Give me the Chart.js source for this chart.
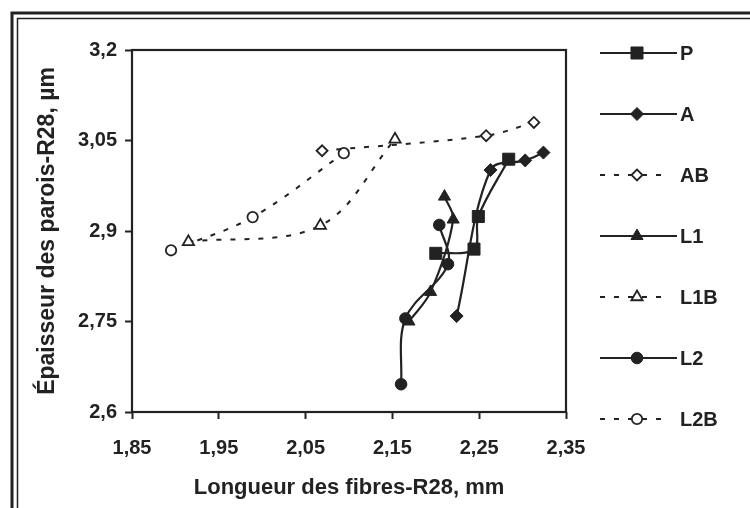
<!DOCTYPE html>
<html>
<head>
<meta charset="utf-8">
<script src="https://cdn.jsdelivr.net/npm/chart.js@4.4.1/dist/chart.umd.min.js"></script>
<style>
  html, body { margin: 0; padding: 0; background: #fff; }
</style>
</head>
<body>
<canvas id="fibreChart" width="750" height="508"></canvas>
<script>
const ink = "#222222";
const fontFamily = "'Liberation Sans', Arial, sans-serif";

// longueur des fibres (mm) et épaisseur des parois (µm) pour chaque série
const seriesNames = ["P", "A", "AB", "L1", "L1B", "L2", "L2B"];
const P_len   = [2.200, 2.244, 2.249, 2.284];
const P_wall  = [2.863, 2.870, 2.924, 3.019];
const A_len   = [2.224, 2.263, 2.303, 2.324];
const A_wall  = [2.759, 3.001, 3.017, 3.030];
const AB_len  = [2.069, 2.258, 2.313];
const AB_wall = [3.033, 3.058, 3.080];
const L1_len  = [2.169, 2.194, 2.220, 2.210];
const L1_wall = [2.750, 2.799, 2.919, 2.957];
const L1B_len = [1.915, 2.067, 2.153];
const L1B_wall = [2.882, 2.909, 3.052];
const L2_len  = [2.160, 2.165, 2.214, 2.204];
const L2_wall = [2.646, 2.755, 2.845, 2.910];
const L2B_len = [1.895, 1.989, 2.094];
const L2B_wall = [2.868, 2.923, 3.029];

const xTickVals = [1.85, 1.95, 2.05, 2.15, 2.25, 2.35];
const xTickLabels = ["1,85", "1,95", "2,05", "2,15", "2,25", "2,35"];
const yTickVals = [2.6, 2.75, 2.9, 3.05, 3.2];
const yTickLabels = ["2,6", "2,75", "2,9", "3,05", "3,2"];

function points(xs, ys) {
  return xs.map((x, i) => ({ x: x, y: ys[i] }));
}

// solid line + filled marker, or dotted line + hollow marker
function series(label, xs, ys, style, radius, hollow) {
  return {
    label: label,
    data: points(xs, ys),
    showLine: true,
    tension: 0.35,
    borderColor: ink,
    borderWidth: hollow ? 2 : 2.2,
    borderDash: hollow ? [5, 9] : [],
    pointStyle: style,
    pointRadius: radius,
    pointHoverRadius: radius,
    pointBorderWidth: hollow ? 1.8 : 1,
    pointBorderColor: ink,
    pointBackgroundColor: hollow ? "#ffffff" : ink,
    clip: false
  };
}

const datasets = [
  series(seriesNames[0], P_len, P_wall, "rect", 8.5, false),
  series(seriesNames[1], A_len, A_wall, "rectRot", 6.5, false),
  series(seriesNames[2], AB_len, AB_wall, "rectRot", 5.5, true),
  series(seriesNames[3], L1_len, L1_wall, "triangle", 7, false),
  series(seriesNames[4], L1B_len, L1B_wall, "triangle", 6.5, true),
  series(seriesNames[5], L2_len, L2_wall, "circle", 5.8, false),
  series(seriesNames[6], L2B_len, L2B_wall, "circle", 5.2, true)
];

// white page, double frame at the top and left, box around the plot
const framePlugin = {
  id: "frame",
  beforeDraw(chart) {
    const ctx = chart.ctx;
    ctx.save();
    ctx.fillStyle = "#ffffff";
    ctx.fillRect(0, 0, chart.width, chart.height);
    ctx.strokeStyle = ink;
    ctx.lineWidth = 3;
    ctx.beginPath();
    ctx.moveTo(12, chart.height);
    ctx.lineTo(12, 13);
    ctx.lineTo(chart.width, 13);
    ctx.stroke();
    ctx.lineWidth = 1.5;
    ctx.beginPath();
    ctx.moveTo(17.5, chart.height);
    ctx.lineTo(17.5, 18.5);
    ctx.lineTo(chart.width, 18.5);
    ctx.stroke();
    ctx.restore();
  },
  afterDatasetsDraw(chart) {
    const a = chart.chartArea;
    const ctx = chart.ctx;
    ctx.save();
    ctx.strokeStyle = ink;
    ctx.lineWidth = 2.2;
    ctx.strokeRect(a.left, a.top, a.right - a.left, a.bottom - a.top);
    ctx.restore();
  }
};

// legend on the right: line sample with marker, then the series name
const legendPlugin = {
  id: "sideLegend",
  afterDraw(chart) {
    const ctx = chart.ctx;
    ctx.save();
    chart.data.datasets.forEach((ds, i) => {
      const y = 53 + i * 61;
      const hollow = ds.borderDash.length > 0;
      ctx.strokeStyle = ink;
      ctx.lineWidth = 2;
      ctx.setLineDash(ds.borderDash);
      ctx.beginPath();
      ctx.moveTo(600, y);
      ctx.lineTo(hollow ? 665 : 677, y);
      ctx.stroke();
      ctx.setLineDash([]);
      ctx.fillStyle = ds.pointBackgroundColor;
      ctx.lineWidth = ds.pointBorderWidth;
      Chart.helpers.drawPoint(ctx, {
        pointStyle: ds.pointStyle,
        radius: ds.pointRadius,
        rotation: 0,
        borderWidth: ds.pointBorderWidth
      }, 637, y);
      ctx.fillStyle = ink;
      ctx.font = "bold 20px " + fontFamily;
      ctx.textAlign = "left";
      ctx.textBaseline = "middle";
      ctx.fillText(ds.label, 680, y + 1);
    });
    ctx.restore();
  }
};

new Chart(document.getElementById("fibreChart"), {
  type: "scatter",
  data: { datasets: datasets },
  options: {
    responsive: false,
    animation: false,
    devicePixelRatio: 1,
    layout: { padding: { left: 0, top: 50, right: 184, bottom: 0 } },
    plugins: {
      legend: { display: false },
      tooltip: { enabled: false }
    },
    scales: {
      x: {
        type: "linear",
        min: 1.85,
        max: 2.35,
        afterBuildTicks: s => { s.ticks = xTickVals.map(v => ({ value: v })); },
        afterFit: s => { s.height = 96; },
        border: { display: false },
        grid: { drawOnChartArea: false, drawTicks: true, tickLength: 7, tickColor: ink, tickWidth: 2 },
        ticks: {
          padding: 17,
          color: ink,
          font: { family: fontFamily, size: 20, weight: "bold" },
          maxRotation: 0,
          callback: (v, i) => xTickLabels[i]
        },
        title: {
          display: true,
          text: "Longueur des fibres-R28, mm",
          color: ink,
          font: { family: fontFamily, size: 22, weight: "bold" },
          padding: { top: 0, bottom: 7 }
        }
      },
      y: {
        type: "linear",
        min: 2.6,
        max: 3.2,
        afterBuildTicks: s => { s.ticks = yTickVals.map(v => ({ value: v })); },
        afterFit: s => { s.width = 132; },
        border: { display: false },
        grid: { drawOnChartArea: false, drawTicks: true, tickLength: 7, tickColor: ink, tickWidth: 2 },
        ticks: {
          padding: 8,
          color: ink,
          font: { family: fontFamily, size: 20, weight: "bold" },
          callback: (v, i) => yTickLabels[i]
        },
        title: {
          display: true,
          text: "Épaisseur des parois-R28, µm",
          color: ink,
          font: { family: fontFamily, size: 23, weight: "bold" },
          padding: { top: 34, bottom: 0 }
        }
      }
    }
  },
  plugins: [framePlugin, legendPlugin]
});
</script>
</body>
</html>
